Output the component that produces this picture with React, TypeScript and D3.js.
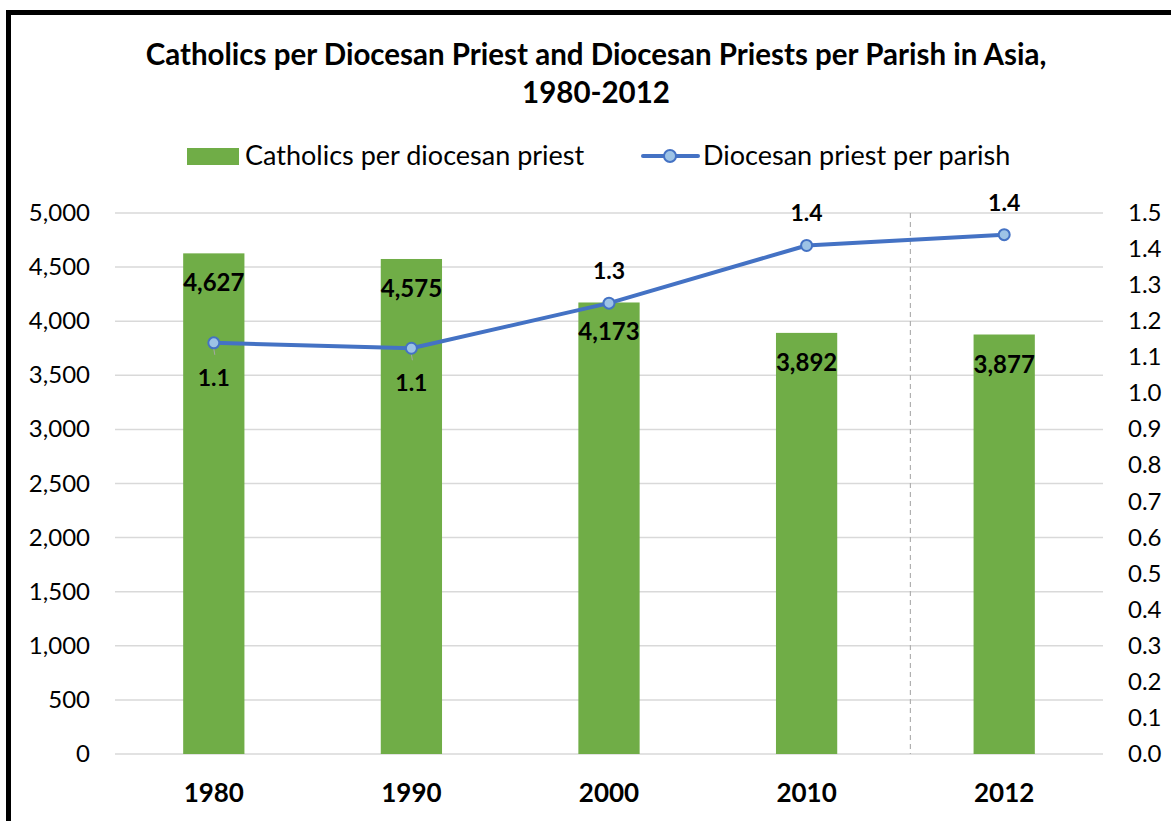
import React from "react";
import * as d3 from "d3";

const years = ["1980", "1990", "2000", "2010", "2012"];
const catholicsPerPriest = [4627, 4575, 4173, 3892, 3877];
const priestsPerParish = [1.14, 1.125, 1.25, 1.41, 1.44];
const priestLabels = ["1.1", "1.1", "1.3", "1.4", "1.4"];
const priestLabelBelow = [true, true, false, false, false];
const leftTicks = [0, 500, 1000, 1500, 2000, 2500, 3000, 3500, 4000, 4500, 5000];
const rightTicks = d3.range(0, 16).map((i) => i / 10);
const titleLines = [
  "Catholics per Diocesan Priest and Diocesan Priests per Parish in Asia,",
  "1980-2012",
];
const legendBar = "Catholics per diocesan priest";
const legendLine = "Diocesan priest per parish";

const W = 1171;
const H = 821;
const FONT = "Lato, 'Open Sans', sans-serif";

export default function App() {
  const x0 = 115;
  const x1 = 1103;
  const yTop = 213;
  const yBot = 754;
  const x = d3.scaleBand().domain(years).range([x0, x1]).paddingInner(0.69).paddingOuter(0.345);
  const yL = d3.scaleLinear().domain([0, 5000]).range([yBot, yTop]);
  const yR = d3.scaleLinear().domain([0, 1.5]).range([yBot, yTop]);
  const cx = (i: number) => (x(years[i]) as number) + x.bandwidth() / 2;
  const line = d3
    .line<number>()
    .x((_, i) => cx(i))
    .y((d) => yR(d));
  const fmt = d3.format(",");
  const dashX = (cx(3) + cx(4)) / 2 + 5;

  return (
    <svg
      width={W}
      height={H}
      style={{ position: "absolute", left: 0, top: 0, background: "#fff" }}
      fontFamily={FONT}
    >
      <rect x={8.5} y={12.5} width={1200} height={900} fill="#fff" stroke="#000" strokeWidth={5} />
      {titleLines.map((t, i) => (
        <text
          key={i}
          x={596}
          y={65 + i * 38}
          textAnchor="middle"
          fontSize={29.5}
          fontWeight="bold"
          fill="#000"
        >
          {t}
        </text>
      ))}
      {/* legend */}
      <rect x={187} y={148} width={52} height={17} fill="#70AD47" />
      <text x={245} y={165} fontSize={27} fill="#000">
        {legendBar}
      </text>
      <line x1={643} x2={698} y1={156} y2={156} stroke="#4472C4" strokeWidth={4} strokeLinecap="round" />
      <circle cx={670} cy={156} r={6} fill="#9DC3E6" stroke="#4472C4" strokeWidth={2} />
      <text x={703} y={165} fontSize={27} fill="#000">
        {legendLine}
      </text>
      {/* gridlines */}
      {leftTicks.map((t) => (
        <line key={t} x1={x0} x2={x1} y1={yL(t)} y2={yL(t)} stroke="#d9d9d9" strokeWidth={1.5} />
      ))}
      <line x1={dashX} x2={dashX} y1={yTop} y2={yBot} stroke="#b0b0b0" strokeWidth={1.2} strokeDasharray="5,4" />
      {/* left axis */}
      {leftTicks.map((t) => (
        <text key={t} x={90} y={yL(t) + 8} textAnchor="end" fontSize={24} fill="#000">
          {fmt(t)}
        </text>
      ))}
      {/* right axis */}
      {rightTicks.map((t) => (
        <text key={t} x={1128} y={yR(t) + 8} textAnchor="start" fontSize={24} fill="#000">
          {t.toFixed(1)}
        </text>
      ))}
      {/* bars */}
      {catholicsPerPriest.map((v, i) => (
        <rect
          key={i}
          x={x(years[i])}
          y={yL(v)}
          width={x.bandwidth()}
          height={yBot - yL(v)}
          fill="#70AD47"
        />
      ))}
      {catholicsPerPriest.map((v, i) => (
        <text
          key={i}
          x={cx(i)}
          y={yL(v) + 38}
          textAnchor="middle"
          fontSize={24}
          fontWeight="bold"
          fill="#000"
        >
          {fmt(v)}
        </text>
      ))}
      {/* x labels */}
      {years.map((yy, i) => (
        <text key={yy} x={cx(i)} y={802} textAnchor="middle" fontSize={26} fontWeight="bold" fill="#000">
          {yy}
        </text>
      ))}
      {/* line */}
      <path d={line(priestsPerParish) || ""} fill="none" stroke="#4472C4" strokeWidth={4} strokeLinejoin="round" />
      {priestsPerParish.map((v, i) =>
        priestLabelBelow[i] ? (
          <line key={"l" + i} x1={cx(i)} x2={cx(i) + 1} y1={yR(v) + 6} y2={yR(v) + 12} stroke="#a6a6a6" strokeWidth={1} />
        ) : null
      )}
      {priestsPerParish.map((v, i) => (
        <circle key={i} cx={cx(i)} cy={yR(v)} r={5.5} fill="#9DC3E6" stroke="#4472C4" strokeWidth={2} />
      ))}
      {priestsPerParish.map((v, i) => (
        <text
          key={i}
          x={cx(i)}
          y={priestLabelBelow[i] ? yR(v) + 43 : yR(v) - 24}
          textAnchor="middle"
          fontSize={23}
          fontWeight="bold"
          fill="#000"
        >
          {priestLabels[i]}
        </text>
      ))}
    </svg>
  );
}
